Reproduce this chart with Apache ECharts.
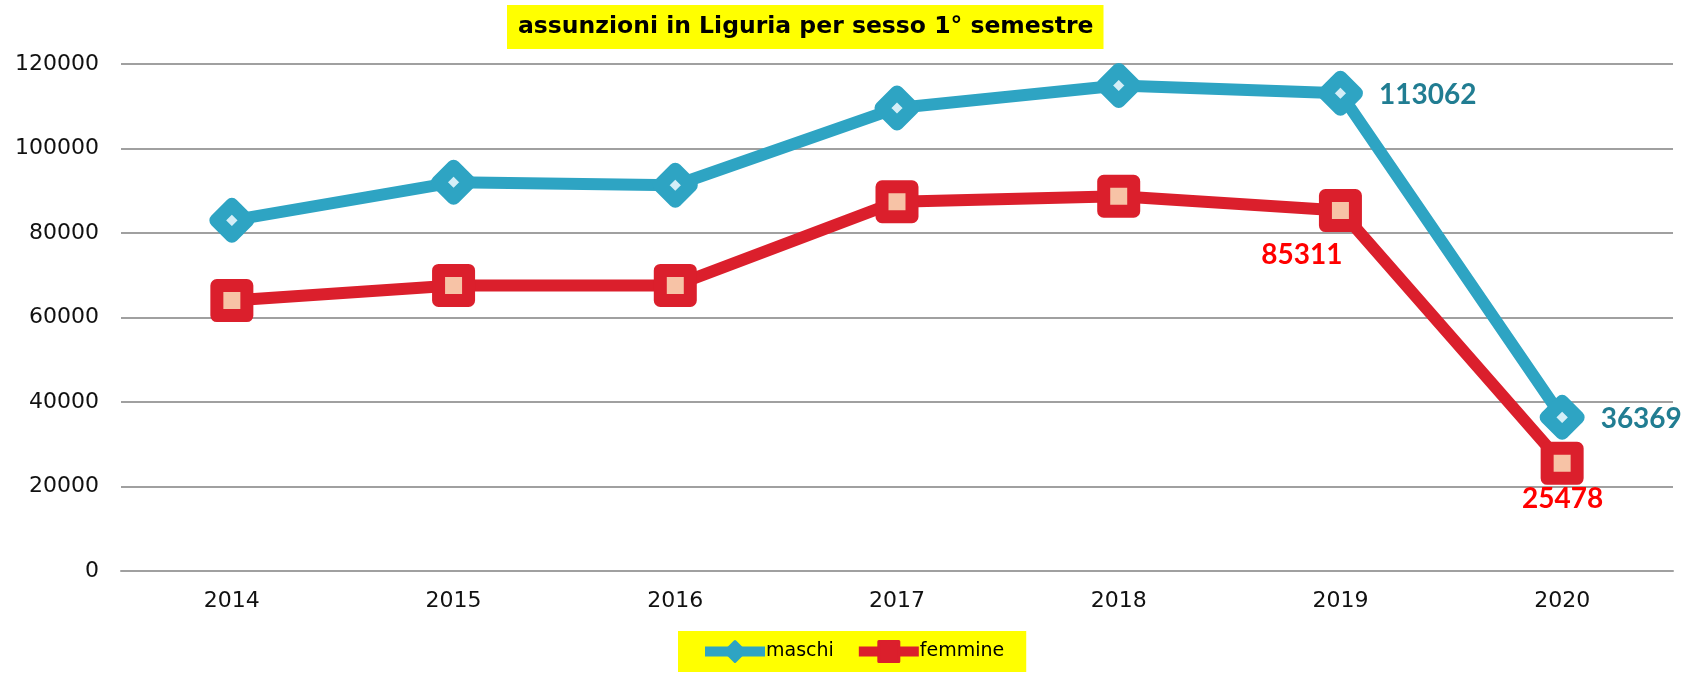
<!DOCTYPE html>
<html><head><meta charset="utf-8">
<script src="https://cdn.jsdelivr.net/npm/echarts@6/dist/echarts.min.js"></script>
<style>html,body{margin:0;padding:0;background:#fff}#c{width:1682px;height:674px}</style>
</head><body><div id="c"></div>
<script>
const categories = ['2014','2015','2016','2017','2018','2019','2020'];
const maschi = [83000, 92000, 91300, 109600, 114900, 113062, 36369];
const femmine = [64000, 67600, 67600, 87400, 88700, 85311, 25478];
const yTicks = [0, 20000, 40000, 60000, 80000, 100000, 120000];
const labeledIdx = [5, 6];

const AX = 'DejaVu Sans';
const LB = 'Lato';
const chart = echarts.init(document.getElementById('c'));
chart.setOption({
  animation: false,
  title: {
    text: 'assunzioni in Liguria per sesso 1° semestre',
    left: 507, top: 5,
    backgroundColor: '#ffff00',
    padding: [10, 10, 10, 11],
    textStyle: {fontFamily: AX, fontWeight: 'bold', fontSize: 23.5, color: '#000'}
  },
  legend: {
    left: 678, top: 631,
    backgroundColor: '#ffff00',
    padding: [9, 22, 9, 22],
    itemWidth: 60, itemHeight: 25, itemGap: 20,
    lineStyle: {width: 10},
    textStyle: {fontFamily: AX, fontSize: 19, color: '#000', padding: [0,0,0,-4]},
    data: [
      {name: 'maschi', itemStyle: {color: '#2ea4c3', borderColor: '#2ea4c3', borderWidth: 3, borderJoin: 'round'}},
      {name: 'femmine', itemStyle: {color: '#db1f2c', borderColor: '#db1f2c', borderWidth: 3, borderJoin: 'round'}}
    ]
  },
  grid: {left: 121, right: 9, top: 64, bottom: 103},
  xAxis: {
    type: 'category', data: categories, boundaryGap: true,
    axisLine: {lineStyle: {color: '#a0a0a0', width: 2}},
    axisTick: {show: false},
    axisLabel: {fontFamily: AX, fontSize: 22, color: '#111', margin: 19}
  },
  yAxis: {
    type: 'value', min: yTicks[0], max: yTicks[yTicks.length-1], interval: 20000,
    axisLine: {show: false}, axisTick: {show: false},
    splitLine: {lineStyle: {color: '#a0a0a0', width: 2}},
    axisLabel: {fontFamily: AX, fontSize: 22, color: '#111', margin: 22, formatter: v => String(v)}
  },
  series: [
    {
      name: 'maschi', type: 'line', data: maschi.map((v,i)=>({value:v, label:{show: labeledIdx.includes(i)}})),
      lineStyle: {color: '#2ea4c3', width: 12},
      symbol: 'diamond', symbolSize: 31,
      itemStyle: {color: '#d4eef7', borderColor: '#2ea4c3', borderWidth: 14, borderJoin: 'round'},
      label: {position: 'right', distance: 16, fontFamily: LB, fontWeight: 'bold', fontSize: 28, color: '#217d92', offset: [0, 2]},
      z: 3
    },
    {
      name: 'femmine', type: 'line',
      data: femmine.map((v,i)=>({value:v, label:{show: labeledIdx.includes(i),
        position: i===5 ? [-17, 66] : [22, 57], align: 'center', verticalAlign: 'middle'}})),
      lineStyle: {color: '#db1f2c', width: 12},
      symbol: 'rect', symbolSize: 30,
      itemStyle: {color: '#f7c3a6', borderColor: '#db1f2c', borderWidth: 13, borderJoin: 'round'},
      label: {fontFamily: LB, fontWeight: 'bold', fontSize: 28, color: '#ff0000'},
      z: 2
    }
  ]
});
</script></body></html>
